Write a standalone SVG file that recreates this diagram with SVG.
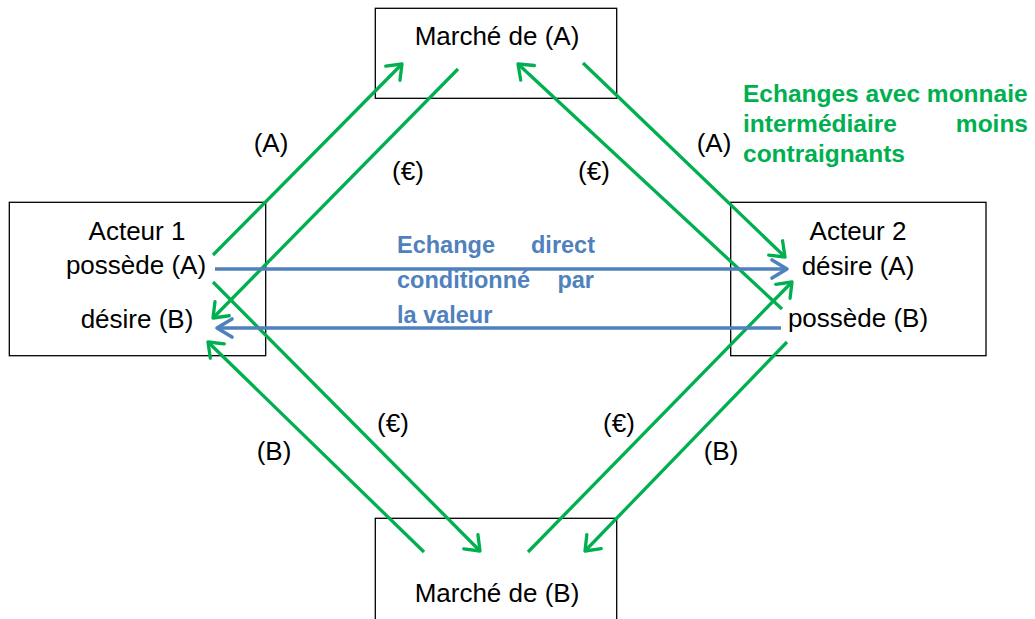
<svg xmlns="http://www.w3.org/2000/svg" width="1035" height="619" viewBox="0 0 1035 619">
<style>
.box{fill:#fff;stroke:#000;stroke-width:1.3}
.t{font-family:"Liberation Sans",Arial,sans-serif;font-size:26px;fill:#000}
.c{text-anchor:middle}
.g{stroke:#00B050;stroke-width:3.3;fill:none;marker-end:url(#ag)}
.b{stroke:#4F81BD;stroke-width:3.6;fill:none;marker-end:url(#ab)}
.gt{font-family:"Liberation Sans",Arial,sans-serif;font-size:24.5px;font-weight:bold;fill:#00B050}
.bt{font-family:"Liberation Sans",Arial,sans-serif;font-size:23.5px;font-weight:bold;fill:#4F81BD}
</style>
<defs>
<marker id="ag" markerUnits="userSpaceOnUse" viewBox="-20 -15 25 30" markerWidth="25" markerHeight="30" refX="0" refY="0" orient="auto">
<path d="M-13,-10 L0,0 L-13,10" fill="none" stroke="#00B050" stroke-width="3.3" stroke-linecap="round" stroke-linejoin="round"/>
</marker>
<marker id="ab" markerUnits="userSpaceOnUse" viewBox="-20 -15 25 30" markerWidth="25" markerHeight="30" refX="0" refY="0" orient="auto">
<path d="M-15,-9 L0,0 L-15,9" fill="none" stroke="#4F81BD" stroke-width="3.6" stroke-linecap="round" stroke-linejoin="round"/>
</marker>
</defs>
<rect width="1035" height="619" fill="#fff"/>
<g id="marche-a">
<rect class="box" x="375.3" y="8.3" width="241.4" height="90"/>
<text class="t c" x="497" y="45">Marché de (A)</text>
</g>
<g id="marche-b">
<rect class="box" x="375.3" y="518.3" width="241.4" height="110"/>
<text class="t c" x="497" y="602">Marché de (B)</text>
</g>
<g id="acteur-1">
<rect class="box" x="9.3" y="202.3" width="256.4" height="153.4"/>
<text class="t c" x="137" y="240">Acteur 1</text>
<text class="t c" x="136" y="274">possède (A)</text>
<text class="t c" x="137" y="328">désire (B)</text>
</g>
<g id="acteur-2">
<rect class="box" x="730.7" y="202.3" width="255.3" height="153.4"/>
<text class="t c" x="858" y="240">Acteur 2</text>
<text class="t c" x="858" y="275">désire (A)</text>
<text class="t c" x="858" y="327">possède (B)</text>
</g>
<g id="connectors">
<line class="g" x1="213" y1="255" x2="402" y2="64"/>
<line class="g" x1="458" y1="69" x2="213" y2="318"/>
<line class="g" x1="782" y1="309" x2="518" y2="64"/>
<line class="g" x1="583" y1="63" x2="785" y2="257"/>
<line class="g" x1="528" y1="552" x2="792" y2="282"/>
<line class="g" x1="787" y1="342" x2="585" y2="551"/>
<line class="g" x1="424" y1="552" x2="208" y2="342"/>
<line class="g" x1="213" y1="282" x2="480" y2="551"/>
<line class="b" x1="215" y1="269" x2="787" y2="269"/>
<line class="b" x1="781" y1="328" x2="217" y2="328"/>
</g>
<g id="labels">
<text class="t c" x="271" y="152">(A)</text>
<text class="t c" x="408" y="180">(€)</text>
<text class="t c" x="594" y="180">(€)</text>
<text class="t c" x="714" y="152">(A)</text>
<text class="t c" x="274" y="460">(B)</text>
<text class="t c" x="393" y="432">(€)</text>
<text class="t c" x="619" y="432">(€)</text>
<text class="t c" x="721" y="460">(B)</text>
</g>
<g id="note-green">
<text class="gt" x="743" y="102">Echanges avec monnaie</text>
<text class="gt" x="743" y="132">intermédiaire</text>
<text class="gt" x="1028" y="132" text-anchor="end">moins</text>
<text class="gt" x="743" y="162">contraignants</text>
</g>
<g id="note-blue">
<text class="bt" x="397" y="253">Echange</text>
<text class="bt" x="595" y="253" text-anchor="end">direct</text>
<text class="bt" x="397" y="288">conditionné</text>
<text class="bt" x="594" y="288" text-anchor="end">par</text>
<text class="bt" x="397" y="323">la valeur</text>
</g>
</svg>
